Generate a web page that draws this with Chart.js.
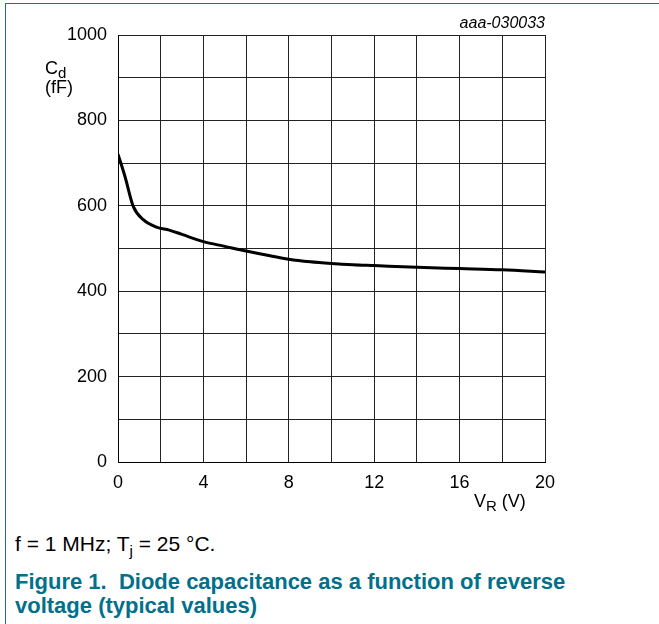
<!DOCTYPE html>
<html>
<head>
<meta charset="utf-8">
<script src="https://cdn.jsdelivr.net/npm/chart.js@4"></script>
<style>
  html, body { margin: 0; padding: 0; background: #fff; }
  body { width: 659px; height: 624px; position: relative; overflow: hidden;
         font-family: "Liberation Sans", Arial, sans-serif; color: #000; }
  #frameTop { position: absolute; left: 5px; top: 3px; width: 654px; height: 1px; background: #1f6f8b; }
  #frameLeft { position: absolute; left: 5px; top: 3px; width: 1px; height: 621px; background: #1f6f8b; }
  #wrap { position: absolute; left: 0; top: 0; width: 659px; height: 520px; }
  .lbl { position: absolute; font-size: 18px; line-height: 1; white-space: nowrap; }
  .lbl sub { font-size: 15px; vertical-align: -4px; line-height: 0; }
  #code { position: absolute; right: 114px; top: 14px; font-size: 16px; font-style: italic; }
  #note { position: absolute; left: 15px; top: 533px; font-size: 21px; line-height: 1; }
  #note sub { font-size: 15px; vertical-align: -5px; line-height: 0; }
  #caption { position: absolute; left: 15px; top: 570px; width: 640px; font-size: 22px; line-height: 24px;
             font-weight: bold; color: #00708b; white-space: nowrap; }
</style>
</head>
<body>
<div id="frameTop"></div>
<div id="frameLeft"></div>
<div id="wrap"><canvas id="chartGraph"></canvas></div>
<div id="code">aaa-030033</div>
<div class="lbl" style="left:45px; top:59px;">C<sub>d</sub></div>
<div class="lbl" style="left:45px; top:78px;">(fF)</div>
<div class="lbl" style="left:474px; top:492px;">V<sub>R</sub> (V)</div>
<div id="note">f = 1 MHz; T<sub>j</sub> = 25 °C.</div>
<div id="caption">Figure 1.&nbsp; Diode capacitance as a function of reverse<br>voltage (typical values)</div>

<script>
const ctx = document.getElementById('chartGraph');

// reverse voltage (V) and diode capacitance (fF)
const voltage = [0, 0.33, 0.72, 1.2, 1.8, 2.4, 3, 4, 5, 6, 7, 8, 9, 10, 11, 12, 14, 16, 18, 20];
const capacitance = [721, 668, 598, 567, 550, 543, 533, 516, 505, 494, 484, 475, 469, 465, 462, 460, 456, 453, 450, 445];

const yLabels = [0, 200, 400, 600, 800, 1000];
const xLabels = [0, 4, 8, 12, 16, 20];

const points = voltage.map((v, i) => ({ x: v, y: capacitance[i] }));

const tickFont = { family: '"Liberation Sans", Arial, sans-serif', size: 18 };

new Chart(ctx, {
  type: 'line',
  data: {
    datasets: [{
      data: points,
      borderColor: '#000',
      borderWidth: 3,
      pointRadius: 0,
      tension: 0.4,
      cubicInterpolationMode: 'monotone',
      fill: false
    }]
  },
  options: {
    responsive: true,
    maintainAspectRatio: false,
    animation: false,
    layout: { padding: { left: 0, right: 114, top: 35, bottom: 0 } },
    plugins: { legend: { display: false }, tooltip: { enabled: false } },
    scales: {
      x: {
        type: 'linear',
        min: 0, max: 20,
        afterFit: (s) => { s.height = 58; },
        grid: { color: '#222', lineWidth: 1, drawTicks: false },
        border: { color: '#000', width: 1 },
        ticks: {
          stepSize: 2,
          padding: 10,
          color: '#000',
          font: tickFont,
          maxRotation: 0,
          autoSkip: false,
          callback: (v) => xLabels.includes(v) ? String(v) : ''
        }
      },
      y: {
        min: 0, max: 1000,
        afterFit: (s) => { s.width = 118; },
        grid: { color: '#222', lineWidth: 1, drawTicks: false },
        border: { color: '#000', width: 1 },
        ticks: {
          stepSize: 100,
          padding: 11,
          color: '#000',
          font: tickFont,
          autoSkip: false,
          callback: (v) => yLabels.includes(v) ? String(v) : ''
        }
      }
    }
  }
});
</script>
</body>
</html>
